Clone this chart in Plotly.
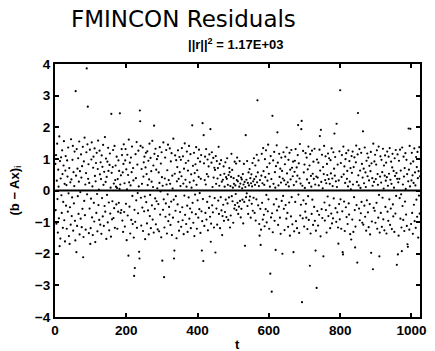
import numpy as np
import plotly.graph_objects as go

# residual b - Ax at each sample t = 1..N (rows of 32 samples)
resid = [
    0.84, -0.62, 1.12, -1.05, 0.31, 1.48, -0.27, -1.33, 0.66, 0.12, -0.88, 1.71, -0.45, 0.93, -1.52, 0.38, 1.05, -0.15, -0.71, 1.27, 0.52, -1.18, -0.36, 0.79, 1.56, -0.94, 0.21, -1.61, 0.63, 1.09, -0.48, 0.17,
    -1.21, 0.95, 0.44, -0.67, 1.36, -0.09, -1.44, 0.71, 1.18, -0.53, 0.26, -1.08, 1.62, 0.35, -0.81, -0.22, 0.97, 1.41, -1.27, 0.58, -0.41, 0.14, 1.23, -0.96, -1.58, 0.86, 0.47, -0.31, 1.31, -1.12, 0.69, -0.18,
    1.02, -0.74, 0.28, 1.55, -1.39, 0.61, -0.05, -0.89, 1.14, 0.41, -1.16, 0.77, -0.58, 1.38, 0.08, -1.47, 0.92, -0.33, 1.67, -0.78, 0.19, -1.24, 0.55, 1.21, -0.64, -0.12, 1.46, -1.02, 0.37, 0.83, -1.35, 0.24,
    -0.57, 1.29, 0.64, -1.19, -0.26, 0.98, 1.52, -0.85, 0.13, -1.41, 0.72, 1.07, -0.39, -0.98, 1.33, 0.46, -1.63, 0.29, 0.87, -0.71, 1.19, -0.11, -1.29, 0.68, 1.58, -0.46, 0.03, -0.93, 1.26, 0.51, -1.08, 0.89,
    0.36, -1.37, 1.11, -0.24, 0.75, -0.82, 1.44, 0.18, -1.12, 0.59, -0.49, 1.69, -0.67, 0.27, 1.01, -1.53, 0.43, -0.14, 0.91, -1.01, 1.35, 0.62, -0.38, -1.26, 0.81, 1.17, -0.73, 0.09, -1.46, 1.24, 0.56, -0.91,
    -0.34, 0.74, 1.28, -0.87, 0.22, -0.56, 1.41, -1.18, 0.33, 0.79, 0.12, -0.44, 1.07, 0.08, -1.21, 0.36, -0.67, 0.95, -0.39, 0.62, 0.05, -1.26, 0.19, -0.71, 0.48, -0.62, 1.31, 1.12, -0.95, 0.57, -1.31, 0.84,
    1.46, -0.68, 0.23, -1.14, 0.95, 1.31, -0.42, 0.67, -1.57, 0.04, 1.13, -0.79, 0.49, -1.22, 1.61, 0.26, -0.51, 0.88, -1.36, 0.16, 1.04, -0.93, 0.58, 1.39, -0.17, -1.06, 0.71, 0.32, -1.49, 1.22, -0.61, 0.45,
    -0.99, 1.15, 0.39, -0.31, 1.53, -1.18, 0.82, -0.08, -0.72, 1.26, 0.13, -1.42, 0.97, 0.54, -0.87, 1.41, -0.23, -1.11, 0.68, 0.21, -0.54, 1.36, -1.28, 0.44, 0.89, -0.66, 1.07, -0.19, -1.54, 0.73, 1.19, -0.37,
    0.52, -1.04, 1.24, 0.17, -0.63, 0.94, -1.39, 0.35, 1.48, -0.81, -0.14, 1.03, -1.19, 0.61, 0.28, -0.47, 1.57, -0.92, 0.11, 0.79, -1.33, 0.48, 1.16, -0.58, -0.25, 1.32, -1.07, 0.66, -0.34, 0.99, 0.07, -1.23,
    1.09, -0.43, 0.57, -1.29, 0.24, 1.37, -0.76, -0.03, 0.85, -1.48, 1.21, 0.42, -0.94, 0.15, -0.61, 1.52, -0.28, 0.73, -1.17, 0.38, 1.04, -0.83, -0.41, 1.28, 0.19, -1.36, 0.64, -0.12, 1.45, -0.97, 0.33, -0.52,
    -0.76, 1.33, 0.21, -1.09, 0.92, -0.35, 1.18, -1.41, 0.47, 0.06, -0.86, 1.64, -0.29, 0.81, -1.23, 0.53, 1.11, -0.64, -0.18, 0.96, -1.51, 0.29, 0.74, -0.44, 1.27, -0.99, 0.37, -1.27, 1.06, 0.58, -0.68, 0.14,
    0.97, -1.15, 0.45, 1.34, -0.53, -0.94, 1.08, 0.22, -1.38, 0.69, -0.16, 1.49, -0.77, 0.34, 0.87, -1.06, 0.12, 1.23, -0.48, -1.31, 0.63, 0.94, -0.22, 1.41, -0.89, 0.26, -0.57, 1.15, -1.19, 0.51, 0.09, -0.69,
    1.26, -0.39, 0.78, -1.02, 0.31, 1.19, -1.44, 0.55, -0.13, 0.83, -0.75, 1.37, 0.18, -1.21, 0.64, -0.31, 1.02, -0.86, 0.43, 1.29, -0.59, -0.08, 0.91, -1.34, 0.37, 1.12, -0.66, 0.24, -0.97, 1.47, -0.27, 0.61,
    -0.45, 0.86, -1.12, 0.33, 1.07, -0.71, 0.19, 1.31, -0.92, 0.52, -0.36, 0.98, -1.26, 0.44, 0.76, -0.55, 1.14, -0.19, -0.83, 0.59, 0.27, -1.05, 0.88, 1.21, -0.47, 0.11, -0.69, 1.03, 0.41, -1.17, 0.72, -0.24,
    0.65, -0.88, 1.09, 0.21, -0.57, 0.93, -1.08, 0.38, 0.71, -0.32, 1.17, -0.74, 0.15, 0.84, -1.19, 0.49, -0.21, 0.96, -0.63, 0.28, 1.05, -0.81, 0.34, -0.45, 0.76, -0.96, 0.53, 0.12, -0.68, 0.89, -0.29, 0.42,
    -0.84, 0.37, 1.02, -0.41, 0.18, -0.93, 0.49, -0.22, 0.71, 0.58, -1.17, 0.14, -0.79, 0.43, 1.16, -0.18, 0.65, -0.34, 0.09, -1.02, 0.39, 0.21, -0.57, 0.91, -0.46, 0.16, -0.11, 0.85, -0.62, 0.33, 1.04, -0.39,
    0.29, -0.74, 0.46, -0.51, 0.12, 0.93, -0.33, 0.22, -0.85, 0.41, -0.58, 0.35, 0.07, -0.29, 0.52, -1.04, 0.19, 0.84, -0.36, 0.27, -0.67, 0.11, 0.78, -0.21, 0.34, -0.09, 0.93, -0.49, 0.24, -0.74, 0.57, 0.16,
    -0.31, 0.68, -0.19, 0.39, -0.86, 0.23, 0.51, -0.42, 0.13, 0.87, -0.64, 0.29, -0.23, 1.02, 0.36, -0.71, 0.18, 0.79, -0.95, 0.44, -0.28, 1.13, 0.26, -0.83, 0.57, -0.47, 0.95, 0.14, -1.06, 0.62, 0.33, -0.58,
    0.82, -1.24, 0.47, 1.16, -0.39, 0.23, -0.92, 1.34, 0.61, -0.77, 0.18, -1.13, 0.99, 0.42, -0.59, 1.27, -0.14, -1.01, 0.74, 0.31, -0.66, 1.45, -0.28, 0.53, -1.21, 0.86, 0.12, -0.49, 1.09, -0.85, 0.36, 1.38,
    -0.72, 0.49, -1.32, 0.95, 0.21, -0.44, 1.22, -0.96, 0.58, 0.09, -1.18, 0.77, -0.27, 1.43, -0.63, 0.34, 0.88, -1.09, 0.16, -0.51, 1.16, 0.43, -0.86, 0.69, -1.37, 0.25, 1.04, -0.33, 0.62, -0.99, 0.38, -0.17,
    1.21, -0.58, 0.32, -1.25, 0.83, 1.07, -0.46, 0.19, -0.89, 1.36, 0.54, -0.71, 0.26, -1.15, 0.97, 0.13, -0.38, 1.19, -1.43, 0.66, 0.35, -0.82, 1.28, -0.21, 0.72, -1.07, 0.45, 0.91, -0.64, 0.17, -1.29, 0.59,
    0.94, -0.36, 1.31, -0.97, 0.28, 0.73, -1.19, 0.47, 1.12, -0.54, -0.13, 0.86, -1.34, 0.38, 1.47, -0.79, 0.22, -0.45, 1.06, -1.02, 0.61, 0.15, -0.88, 1.25, -0.31, 0.57, -1.14, 0.82, 0.08, -0.67, 1.18, -0.42,
    -0.86, 1.04, 0.35, -1.22, 0.67, -0.18, 1.39, -0.93, 0.24, 0.79, -0.61, 1.15, -1.36, 0.46, 0.12, -0.74, 1.26, -0.29, 0.53, -1.09, 0.91, 0.37, -0.52, 1.32, -0.96, 0.19, 0.71, -1.27, 0.44, -0.08, 0.98, -0.65,
    0.41, -1.11, 0.88, 0.16, -0.77, 1.29, -0.34, 0.63, -1.45, 0.95, 0.27, -0.59, 1.13, -0.87, 0.07, 0.74, -1.24, 0.52, 1.41, -0.38, -0.95, 0.33, 1.08, -0.62, 0.23, -1.33, 0.84, 0.49, -0.19, 1.17, -0.81, 0.36,
    1.02, -0.47, 0.21, -1.19, 0.96, 0.54, -0.73, 1.33, -1.04, 0.38, 0.14, -0.88, 1.21, -0.25, 0.69, -1.41, 0.47, 1.06, -0.56, 0.29, -0.99, 1.36, 0.11, -0.69, 0.82, -1.17, 0.57, 0.32, -0.43, 1.24, -0.91, 0.65,
    -0.28, 0.87, -1.21, 0.43, 1.12, -0.66, 0.18, -0.97, 1.39, 0.51, -0.35, 0.76, -1.28, 0.24, 0.99, -0.53, 1.18, -0.84, 0.37, 0.62, -1.06, 0.13, 1.27, -0.41, -0.76, 0.93, 0.28, -1.38, 0.71, 0.04, -0.58, 1.09,
    0.56, -0.92, 1.23, 0.19, -1.31, 0.74, -0.21, 1.05, -0.62, 0.35, -1.14, 0.89, 1.42, -0.46, 0.27, -0.81, 1.14, -1.23, 0.48, 0.16, -0.57, 1.31, -0.94, 0.63, 0.08, -0.72, 1.19, -0.36, 0.84, -1.02, 0.41, 1.26,
    -1.08, 0.69, 0.23, -0.48, 1.36, -0.83, 0.57, 0.11, -1.27, 0.94, -0.31, 1.17, 0.45, -0.69, 1.04, -1.16, 0.32, 0.78, -0.43, -1.39, 0.61, 1.22, -0.26, 0.86, -0.98, 0.39, 0.15, -0.76, 1.48, -0.55, 0.27, 0.92,
    -0.64, 1.13, -1.02, 0.36, 0.82, -0.39, 1.27, -1.21, 0.52, 0.18, -0.86, 1.39, -0.14, 0.67, -1.33, 0.44, 1.08, -0.71, 0.25, 0.97, -1.15, 0.58, -0.23, 1.32, -0.91, 0.06, 0.79, -1.26, 0.47, 1.11, -0.52, 0.31,
    0.88, -1.36, 0.42, 1.23, -0.67, 0.15, -0.96, 1.07, 0.53, -0.28, 1.34, -1.09, 0.34, -0.57, 0.91, 0.21, -1.22, 0.73, 1.16, -0.44, -0.82, 0.62, 0.09, -1.31, 1.02, 0.46, -0.73, 1.28, -0.17, 0.55, -1.04, 0.37,
    1.14, -0.61, 0.26, -1.43, 0.94, 0.37, -0.24, 1.29, -0.89, 0.63, -0.12, -1.17, 0.81, 1.36, -0.49, 0.19, -0.93, 1.07, 0.44, -1.28, 0.71, -0.35, 1.18, 0.05, -0.76, 0.97, -1.12, 0.52, 1.25, -0.41, 0.29, -0.84,
    0.66, -1.24, 1.41, 0.13, -0.58, 0.85, -1.06, 0.32, 1.19, -0.71, 0.48, -1.37, 0.92, 0.24, -0.45, 1.33, -0.97, 0.57, 0.16, -1.18, 1.06, -0.29, 0.74, -0.83, 1.22, 0.39, -1.49, 0.61, -0.16, 1.37, -0.73, 0.45,
]

# samples with the largest residuals (t, value)
large_t = [13, 25, 41, 58, 60, 79, 89, 92, 99, 158, 182, 206, 222, 224, 236, 237, 238, 239,
           278, 301, 306, 334, 335, 385, 412, 414, 416, 417, 436, 437, 450, 459, 469, 533,
           535, 568, 574, 577, 604, 608, 610, 619, 624, 638, 669, 682, 691, 692, 693, 715,
           731, 734, 743, 746, 753, 784, 790, 795, 800, 807, 808, 831, 842, 848, 850, 864,
           887, 892, 910, 959, 962, 973, 989, 990, 992, 997]
large_r = [-1.76, 1.56, -1.69, 3.14, -1.95, -2.11, 3.86, 2.65, -1.69, 2.42, 2.44, -2.06, -2.70, -2.45, -1.94, -2.15, 2.53, 2.19,
           2.05, -2.22, -2.74, -2.15, -1.90, 2.06, -1.90, 2.13, -2.23, 1.75, 1.94, -1.62, -1.96, 1.38, -1.41, -1.75,
           1.75, 2.85, -1.43, -1.72, -2.63, -3.20, 2.36, -1.88, 1.84, -2.00, -1.95, 2.07, 1.94, 2.20, -3.53, -2.38,
           -1.90, -3.08, 1.72, 1.92, -2.08, 1.80, 2.11, -1.68, 3.17, -1.95, -2.02, -1.55, -1.80, -2.28, 2.45, 1.87,
           -1.97, -2.49, -2.08, -2.35, -2.02, -1.92, -1.70, -1.78, 1.96, 1.95]

x_ticks = [0, 200, 400, 600, 800, 1000]
y_ticks = [-4, -3, -2, -1, 0, 1, 2, 3, 4]

r = np.array(resid, dtype=float)
for tt, val in zip(large_t, large_r):
    if 1 <= tt <= len(r):
        r[tt - 1] = val
t = np.arange(1, len(r) + 1)

fig = go.Figure()
fig.add_trace(go.Scatter(
    x=t, y=r, mode="markers",
    marker=dict(color="black", size=2.2, line=dict(width=0)),
    hoverinfo="skip", showlegend=False,
))
# zero reference line
fig.add_trace(go.Scatter(
    x=[t[0], t[-1]], y=[0, 0], mode="lines",
    line=dict(color="black", width=2),
    hoverinfo="skip", showlegend=False,
))

bold = "Liberation Sans, Arial, sans-serif"
tick_font = dict(family=bold, size=13.5, color="black")

fig.update_layout(
    width=435, height=351,
    margin=dict(l=55, r=9, t=64, b=34),
    paper_bgcolor="white", plot_bgcolor="white",
    font=dict(family=bold, color="black"),
    xaxis=dict(
        range=[0, 1024], tickvals=x_ticks, ticktext=[f"<b>{v}</b>" for v in x_ticks],
        ticks="inside", ticklen=4, tickwidth=1.5, tickcolor="black",
        showline=True, linecolor="black", linewidth=2, mirror="ticks",
        showgrid=False, zeroline=False, tickfont=tick_font,
    ),
    yaxis=dict(
        range=[-4, 4], tickvals=y_ticks, ticktext=[f"<b>{v}</b>".replace("-", "\u2212") for v in y_ticks],
        ticks="inside", ticklen=4, tickwidth=1.5, tickcolor="black",
        showline=True, linecolor="black", linewidth=2, mirror="ticks",
        showgrid=False, zeroline=False, tickfont=tick_font,
    ),
    annotations=[
        dict(text="FMINCON Residuals", xref="paper", yref="paper",
             x=0.351, y=1.0, yshift=45, xanchor="center", yanchor="middle",
             showarrow=False, font=dict(family="DejaVu Sans, sans-serif", size=23, color="black")),
        dict(text="<b>||r||<sup>2</sup> = 1.17E+03</b>", xref="paper", yref="paper",
             x=0.497, y=1.0, yshift=20, xanchor="center", yanchor="middle",
             showarrow=False, font=dict(family=bold, size=13, color="black")),
        dict(text="<b>t</b>", xref="paper", yref="paper",
             x=0.5, y=0.0, yshift=-27, xanchor="center", yanchor="middle",
             showarrow=False, font=dict(family=bold, size=13, color="black")),
        dict(text="<b>(b \u2212 Ax)<sub>i</sub></b>", xref="paper", yref="paper",
             x=0.0, xshift=-40, y=0.5, xanchor="center", yanchor="middle", textangle=-90,
             showarrow=False, font=dict(family=bold, size=13, color="black")),
    ],
)

fig.write_html("out.html")
